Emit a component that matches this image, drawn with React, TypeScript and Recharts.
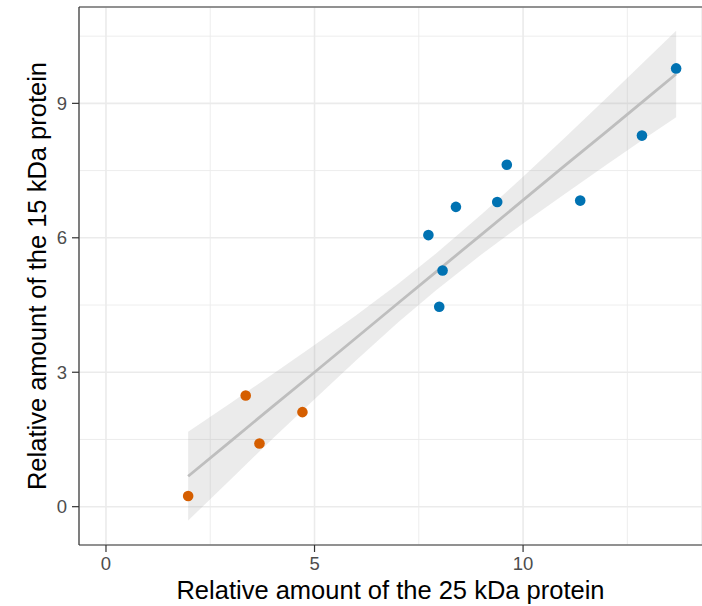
import React from "react";
import {
  ComposedChart,
  XAxis,
  YAxis,
  CartesianGrid,
  Area,
  Line,
  Scatter,
  ReferenceLine,
} from "recharts";

// Points
const orangeX = [1.97, 3.35, 3.68, 4.71];
const orangeY = [0.24, 2.48, 1.41, 2.11];
const blueX = [7.73, 7.99, 8.07, 8.39, 9.38, 9.61, 11.37, 12.85, 13.67];
const blueY = [6.06, 4.46, 5.27, 6.69, 6.8, 7.63, 6.83, 8.28, 9.78];

// Fitted line and confidence band
const fitX = [1.97, 3, 4, 5, 6, 7, 7.9, 9, 10, 11, 12, 13, 13.67];
const fitY = [0.68, 1.47, 2.24, 3.0, 3.77, 4.54, 5.23, 6.07, 6.84, 7.61, 8.37, 9.14, 9.655];
const bandLow = [-0.31, 0.62, 1.52, 2.4, 3.27, 4.11, 4.82, 5.63, 6.32, 6.98, 7.63, 8.27, 8.69];
const bandHigh = [1.67, 2.32, 2.96, 3.61, 4.27, 4.97, 5.64, 6.52, 7.36, 8.23, 9.12, 10.02, 10.62];

const xTicks = [0, 5, 10];
const yTicks = [0, 3, 6, 9];
const xMinor = [2.5, 7.5, 12.5];
const yMinor = [1.5, 4.5, 7.5, 10.5];
const xDomain = [-0.647, 14.29];
const yDomain = [-0.855, 11.15];

const xTitle = "Relative amount of the 25 kDa protein";
const yTitle = "Relative amount of the 15 kDa protein";

const orangeData = orangeX.map((x, i) => ({ x, y: orangeY[i] }));
const blueData = blueX.map((x, i) => ({ x, y: blueY[i] }));
const fitData = fitX.map((x, i) => ({ x, fit: fitY[i] }));
const bandData = fitX.map((x, i) => ({ x, band: [bandLow[i], bandHigh[i]] }));

const FONT = "'Liberation Sans', Arial, Helvetica, sans-serif";

const dot = (color: string) => (p: any) =>
  <circle cx={p.cx} cy={p.cy} r={5.3} fill={color} />;

export default function App() {
  return (
    <div style={{ position: "absolute", left: 0, top: 0, width: 702, height: 606, background: "#fff" }}>
      <ComposedChart
        width={702}
        height={606}
        margin={{ top: 7, right: 0, bottom: 0, left: 0 }}
        style={{ fontFamily: FONT }}
      >
        <CartesianGrid
          stroke="#EBEBEB"
          strokeWidth={0.9}
          horizontalValues={yMinor}
          verticalValues={xMinor}
        />
        <CartesianGrid stroke="#EBEBEB" strokeWidth={1.6} />
        <XAxis
          type="number"
          dataKey="x"
          domain={xDomain}
          ticks={xTicks}
          allowDataOverflow
          height={61}
          tickSize={7}
          tickMargin={5}
          axisLine={{ stroke: "#333333", strokeWidth: 1.2 }}
          tickLine={{ stroke: "#333333", strokeWidth: 1.2 }}
          tick={{ fill: "#4D4D4D", fontSize: 18.5, fontFamily: FONT }}
          label={{
            content: (props: any) => {
              const vb = props.viewBox;
              return (
                <text
                  x={vb.x + vb.width / 2}
                  y={vb.y + 54}
                  textAnchor="middle"
                  fill="#000"
                  fontSize={25.5}
                  fontFamily={FONT}
                >
                  {xTitle}
                </text>
              );
            },
          }}
        />
        <YAxis
          type="number"
          dataKey="y"
          domain={yDomain}
          ticks={yTicks}
          allowDataOverflow
          width={79}
          tickSize={7}
          tickMargin={5}
          axisLine={{ stroke: "#333333", strokeWidth: 1.2 }}
          tickLine={{ stroke: "#333333", strokeWidth: 1.2 }}
          tick={{ fill: "#4D4D4D", fontSize: 18.5, fontFamily: FONT }}
          label={{
            content: (props: any) => {
              const vb = props.viewBox;
              const cx = 37;
              const cy = vb.y + vb.height / 2;
              return (
                <text
                  x={cx}
                  y={cy}
                  transform={`rotate(-90 ${cx} ${cy})`}
                  textAnchor="middle"
                  dominantBaseline="central"
                  fill="#000"
                  fontSize={25.5}
                  fontFamily={FONT}
                >
                  {yTitle}
                </text>
              );
            },
          }}
        />
        <ReferenceLine y={yDomain[1]} stroke="#333333" strokeWidth={1.2} ifOverflow="visible" />
        <Area
          data={bandData}
          dataKey="band"
          type="linear"
          stroke="none"
          fill="#999999"
          fillOpacity={0.2}
          isAnimationActive={false}
        />
        <Line
          data={fitData}
          dataKey="fit"
          type="linear"
          stroke="#BEBEBE"
          strokeWidth={2.8}
          dot={false}
          activeDot={false}
          isAnimationActive={false}
        />
        <Scatter data={orangeData} fill="#D55E00" shape={dot("#D55E00")} isAnimationActive={false} />
        <Scatter data={blueData} fill="#0072B2" shape={dot("#0072B2")} isAnimationActive={false} />
      </ComposedChart>
    </div>
  );
}
